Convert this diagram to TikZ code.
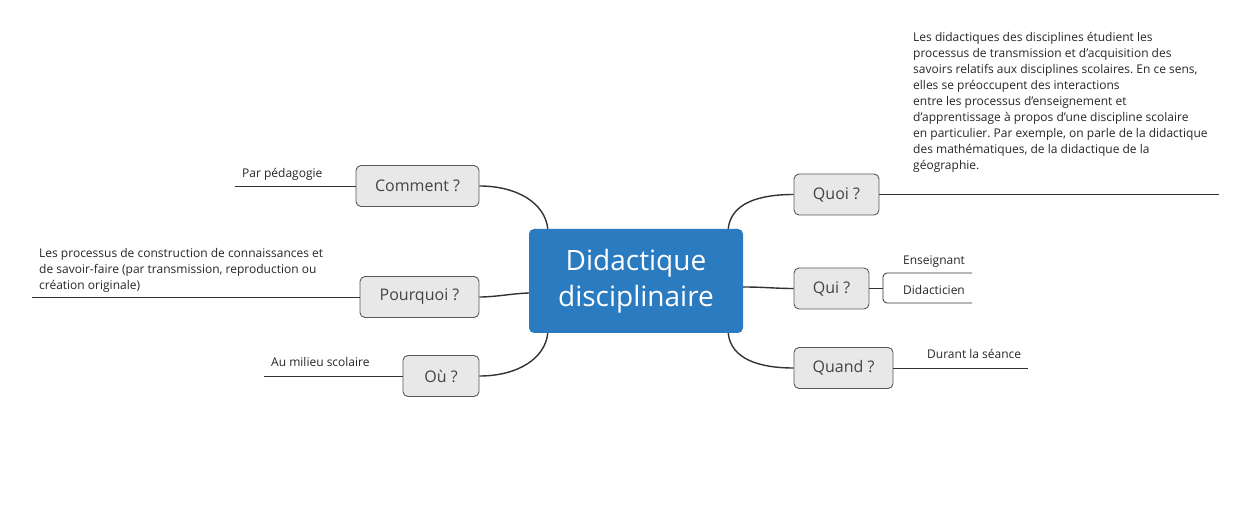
\documentclass[tikz,border=0pt]{standalone}
\usepackage{fontspec}
\setmainfont{Open Sans}
\usetikzlibrary{positioning}
\definecolor{rootblue}{HTML}{2B7BC1}
\definecolor{boxgray}{HTML}{E8E8E8}
\definecolor{boxline}{HTML}{5A5A5A}
\definecolor{txtgray}{HTML}{444444}
\definecolor{linkgray}{HTML}{333333}
\frenchspacing

\begin{document}
\begin{tikzpicture}[x=1pt,y=-1pt,
    root/.style={fill=rootblue, rounded corners=5pt, text=white, inner sep=0pt,
      minimum width=214pt, minimum height=104pt, align=center,
      font=\fontsize{28}{36}\selectfont},
    topic/.style={draw=boxline, fill=boxgray, rounded corners=5pt, line width=0.9pt,
      text=txtgray, inner sep=0pt, minimum height=41pt, font=\fontsize{16}{18}\selectfont},
    leaf/.style={font=\fontsize{12}{16}\selectfont, text=black!85, inner sep=0pt, align=left},
    link/.style={draw=linkgray, line width=1.4pt},
    twig/.style={draw=linkgray, line width=0.8pt}]
  \useasboundingbox (0,0) rectangle (1254,521);

  \node[root] (root) at (636,281) {Didactique\\disciplinaire};

  \foreach \n/\x/\y/\w/\t in {comment/417.5/186/123/Comment ?,
      pourquoi/419.5/297/119/Pourquoi ?, ou/441/376/76/Où ?,
      quoi/836.5/194.5/85/Quoi ?, qui/831.5/288.5/75/Qui ?,
      quand/843.5/368/99/Quand ?} {
    \node[topic, minimum width=\w pt] (\n) at (\x,\y) {\t};
  }

  % branches
  \draw[link] (comment.east) .. controls (517,186) and (545,203) .. ([xshift=19pt]root.north west);
  \draw[link] (pourquoi.east) .. controls (496,297) and (512,293.5) .. ([yshift=-12pt]root.west);
  \draw[link] (ou.east) .. controls (517,376) and (545,359) .. ([xshift=19pt]root.south west);
  \draw[link] ([xshift=-15pt]root.north east) .. controls (731,203) and (759,194.5) .. (quoi.west);
  \draw[link] ([yshift=-6pt]root.east) .. controls (765,287) and (775,288.5) .. (qui.west);
  \draw[link] ([xshift=-15pt]root.south east) .. controls (731,359) and (759,368) .. (quand.west);

  % leaves
  \coordinate (commentend) at (235,186);
  \coordinate (pourquoiend) at (32,297);
  \coordinate (ouend) at (264,376);
  \coordinate (quoiend) at (1219,194.5);
  \coordinate (quandend) at (1028,368);
  \coordinate (quifork) at (883,288.5);
  \coordinate (ensend) at (972,273);
  \coordinate (didend) at (972,303);

  \node[leaf, anchor=base west] (pedagogie) at (242,178) {Par pédagogie};
  \node[leaf, anchor=south west] (processus) at (39,293)
    {Les processus de construction de connaissances et\\
     de savoir-faire (par transmission, reproduction ou\\
     création originale)};
  \node[leaf, anchor=base west] (milieu) at (271,367) {Au milieu scolaire};
  \node[leaf, anchor=south west] (definition) at (913,173)
    {Les didactiques des disciplines étudient les\\
     processus de transmission et d’acquisition des\\
     savoirs relatifs aux disciplines scolaires. En ce sens,\\
     elles se préoccupent des interactions\\
     entre les processus d’enseignement et\\
     d’apprentissage à propos d’une discipline scolaire\\
     en particulier. Par exemple, on parle de la didactique\\
     des mathématiques, de la didactique de la\\
     géographie.};
  \node[leaf, anchor=base west] (enseignant) at (903,265) {Enseignant};
  \node[leaf, anchor=base west] (didacticien) at (903,295) {Didacticien};
  \node[leaf, anchor=base west] (seance) at (927,359) {Durant la séance};

  \draw[twig] (comment.west) -- (commentend);
  \draw[twig] (pourquoi.west) -- (pourquoiend);
  \draw[twig] (ou.west) -- (ouend);
  \draw[twig] (quoi.east) -- (quoiend);
  \draw[twig] (quand.east) -- (quandend);
  \draw[twig] (qui.east) -- (quifork);
  \draw[twig, rounded corners=4pt] (ensend) -- (ensend -| quifork) -- (didend -| quifork) -- (didend);
\end{tikzpicture}
\end{document}
